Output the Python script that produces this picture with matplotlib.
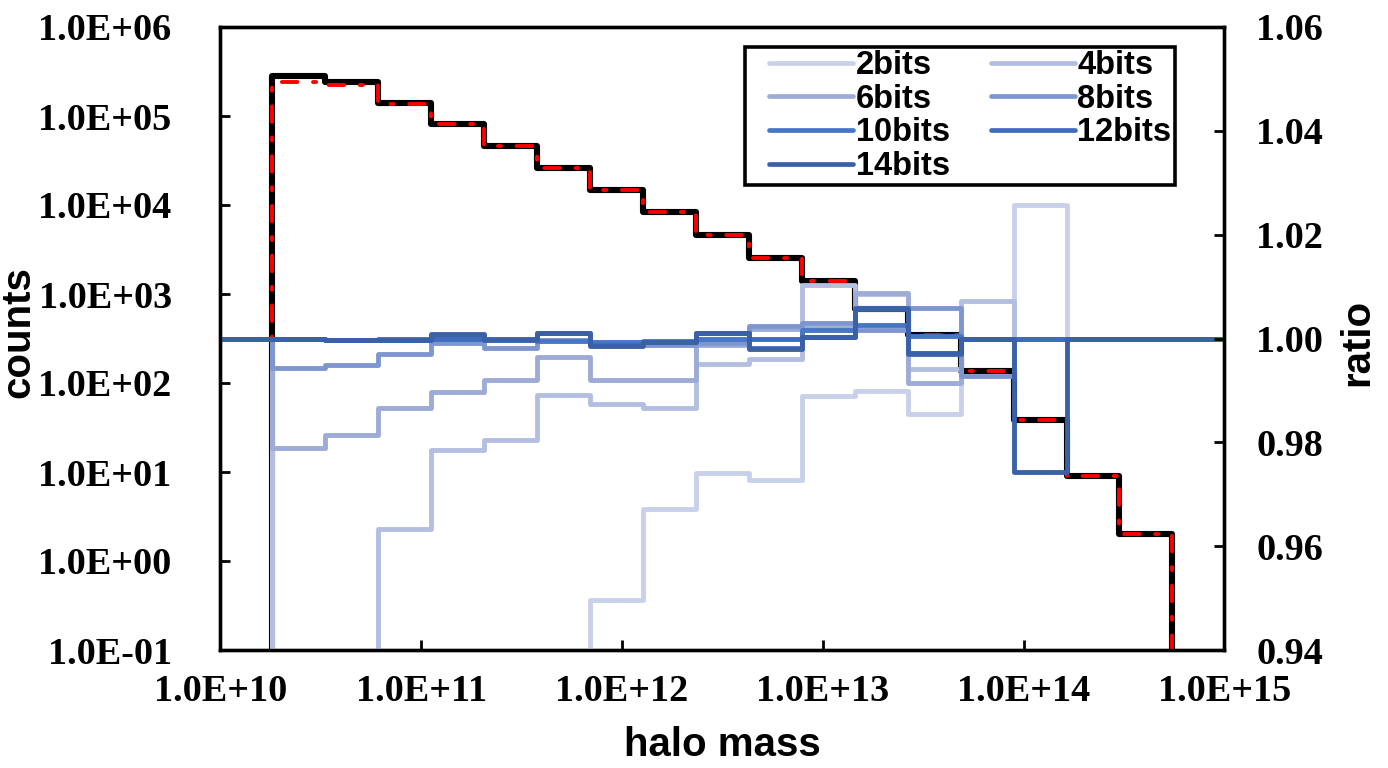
import matplotlib
matplotlib.use("Agg")
import matplotlib.pyplot as plt
from matplotlib.ticker import FixedLocator, FuncFormatter, NullLocator
from matplotlib.lines import Line2D
from matplotlib.legend_handler import HandlerLine2D
from matplotlib.font_manager import FontProperties
import numpy as np

# ---------------- data ----------------
# log10(halo mass) bin edges
log_edges = [10.259, 10.523, 10.786, 11.050, 11.314, 11.578, 11.841, 12.105, 12.369,
             12.632, 12.896, 13.160, 13.424, 13.687, 13.951, 14.215, 14.478, 14.742]

counts_ref = [2.79e5, 2.39e5, 1.39e5, 8.07e4, 4.60e4, 2.61e4, 1.48e4, 8.34e3, 4.63e3,
              2.57e3, 1.40e3, 673, 346, 136, 38, 9, 2]
counts_cmp = [2.39e5, 2.23e5, 1.36e5, 8.07e4, 4.60e4, 2.61e4, 1.48e4, 8.34e3, 4.63e3,
              2.57e3, 1.40e3, 673, 346, 136, 38, 9, 2]

ratio_2bits = [0, 0, 0, 0, 0, 0, 0.9496, 0.9671, 0.9741, 0.9727, 0.9889, 0.9898, 0.9855,
               1.0, 1.0257, 1.0, 1.0]
ratio_4bits = [0, 0, 0.9634, 0.9785, 0.9804, 0.9891, 0.9873, 0.9867, 0.9950, 0.9960,
               1.0103, 1.0085, 0.9941, 1.0072, 1.0, 1.0, 1.0]
ratio_6bits = [0.9790, 0.9814, 0.9866, 0.9897, 0.9920, 0.9965, 0.9920, 0.9920, 0.9987,
               1.0018, 1.0020, 1.0087, 0.9915, 1.0, 1.0, 1.0, 1.0]
ratio_8bits = [0.9943, 0.9949, 0.9970, 0.9991, 0.9982, 0.9997, 0.9987, 0.9987, 0.9991,
               1.0024, 1.0029, 1.0016, 1.0058, 0.9928, 1.0, 1.0, 1.0]
ratio_10bits = [1.0, 0.9997, 0.9997, 1.0007, 1.0, 0.9996, 0.9994, 0.9996, 1.0, 0.9981,
                1.0016, 1.0026, 1.0005, 1.0, 1.0, 1.0, 1.0]
ratio_12bits = [1.0, 0.9998, 1.0, 1.0, 1.0, 1.0010, 0.9987, 0.9994, 1.0011, 1.0,
                1.0003, 1.0058, 0.9971, 1.0, 1.0, 1.0, 1.0]
ratio_14bits = [1.0, 0.9997, 0.9998, 1.0008, 0.9998, 1.0010, 0.9985, 0.9994, 1.0011, 0.9979,
                1.0003, 1.0056, 0.9972, 1.0, 0.9743, 1.0, 1.0]

series_labels = ["2bits", "4bits", "6bits", "8bits", "10bits", "12bits", "14bits"]
series_values = [ratio_2bits, ratio_4bits, ratio_6bits, ratio_8bits,
                 ratio_10bits, ratio_12bits, ratio_14bits]
series_colors = ["#c9d1ea", "#b3bee0", "#9dacd7", "#7e96d0", "#4676c6", "#3f6cba", "#3a61a7"]

x_ticks = [1e10, 1e11, 1e12, 1e13, 1e14, 1e15]
y_ticks = [1e-1, 1e0, 1e1, 1e2, 1e3, 1e4, 1e5, 1e6]
r_ticks = [0.94, 0.96, 0.98, 1.00, 1.02, 1.04, 1.06]

# ---------------- figure ----------------
W, H = 1388, 768
fig = plt.figure(figsize=(W / 100, H / 100), dpi=100)
L, R, T, B = 220.3, 1224.3, 27, 650
ax = fig.add_axes([L / W, 1 - B / H, (R - L) / W, (B - T) / H])

tick_fp = FontProperties(family="Liberation Serif", weight="bold", size=27.5)
lab_font = dict(family="Liberation Sans", weight="bold", size=29)

edges = 10 ** np.array(log_edges)

ax.set_xscale("log")
ax.set_yscale("log")
ax.set_xlim(1e10, 1e15)
ax.set_ylim(0.1, 1e6)

ax.stairs(counts_ref, edges, baseline=1e-3, color="black", lw=4.4, zorder=2,
          joinstyle="round", capstyle="round")
ax.stairs(counts_cmp, edges, baseline=1e-3, color="#ff0000", lw=2.8,
          linestyle=(0, (4, 4, 0.8, 4)), zorder=3, capstyle="round")

ax.xaxis.set_major_locator(FixedLocator(x_ticks))
ax.xaxis.set_minor_locator(NullLocator())
ax.yaxis.set_major_locator(FixedLocator(y_ticks))
ax.yaxis.set_minor_locator(NullLocator())
fmtE = FuncFormatter(lambda v, p: f"{v:.1E}")
ax.xaxis.set_major_formatter(fmtE)
ax.yaxis.set_major_formatter(fmtE)

ax2 = ax.twinx()
ax2.set_ylim(0.94, 1.06)
ax2.yaxis.set_major_locator(FixedLocator(r_ticks))
ax2.yaxis.set_major_formatter(FuncFormatter(lambda v, p: f"{v:.2f}"))

ext_edges = np.concatenate([[1e10], edges, [1e15]])
handles = []
for lab, vals, col in zip(series_labels, series_values, series_colors):
    v = np.concatenate([[1.0], vals, [1.0]])
    ax2.stairs(v, ext_edges, baseline=None, color=col, lw=3.5,
               joinstyle="round", capstyle="round")
    handles.append(Line2D([], [], color=col, lw=3.4, solid_capstyle="round"))

for a in (ax, ax2):
    for s in a.spines.values():
        s.set_linewidth(2.4)
        s.set_color("black")

ax.tick_params(axis="x", which="major", direction="in", length=7, width=2, pad=17)
ax.tick_params(axis="y", which="major", direction="in", length=7, width=2, pad=35)
ax2.tick_params(axis="y", which="major", direction="in", length=7, width=2, pad=23)
for lbl in ax.get_xticklabels() + ax.get_yticklabels() + ax2.get_yticklabels():
    lbl.set_fontproperties(tick_fp)

fig.text(722 / W, 1 - 745 / H, "halo mass", ha="center", va="center", **lab_font)
fig.text(18 / W, 1 - 332 / H, "counts", ha="center", va="center", rotation=90, **lab_font)
fig.text(1357 / W, 1 - 342 / H, "ratio", ha="center", va="center", rotation=90, **lab_font)

order = [0, 2, 4, 6, 1, 3, 5]
leg = ax2.legend([handles[i] for i in order], [series_labels[i] for i in order],
                 ncol=2, loc="upper left", bbox_to_anchor=(745 / W, 1 - 47 / H),
                 bbox_transform=fig.transFigure, frameon=True, fancybox=False,
                 edgecolor="black", framealpha=1, handlelength=3.21, handletextpad=0.08,
                 columnspacing=0.62, labelspacing=0.08, borderpad=0.1, borderaxespad=0,
                 handler_map={Line2D: HandlerLine2D(xpad=0.63)},
                 prop=dict(family="Liberation Sans", weight="bold", size=23.5))
leg.get_frame().set_linewidth(2.6)

fig.savefig("out.png", dpi=100)
